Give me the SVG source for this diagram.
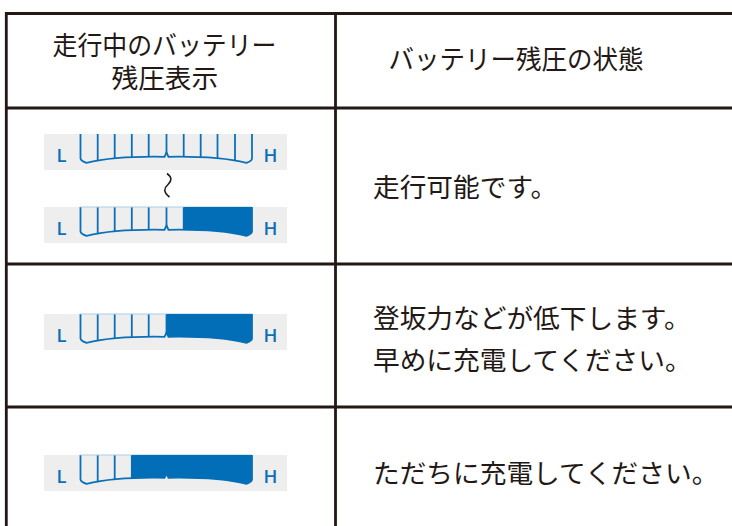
<svg xmlns="http://www.w3.org/2000/svg" xmlns:xlink="http://www.w3.org/1999/xlink" width="732" height="526" viewBox="0 0 732 526">
<style>
.t{font-family:"Noto Sans CJK JP","Noto Sans",sans-serif;font-size:26.7px;fill:#231815}
.lh{font-family:"Open Sans","Liberation Sans",sans-serif;font-size:18.5px;font-weight:600;fill:#0b70b8}
.g{fill:none;stroke:#0b70b8;stroke-width:1.8}
.top{fill:none;stroke:#a9cde6;stroke-width:1.2}
.f{fill:#036eb8}
.b{fill:#eeeeee}
.rule{stroke:#231815;stroke-width:2.8;fill:none}
</style>
<defs>
<path id="out" d="M80.5 0V24.5Q81 27 86.5 28.8Q115 22 164.5 22.8L166.5 18.5L168.5 22.8Q218 22 246.5 28.8Q252 27 252 24.5V0Z"/>
<clipPath id="c"><use xlink:href="#out"/></clipPath>
<g id="gauge">
<rect class="b" x="44" y="0" width="243" height="36"/>
<text class="lh" x="56.5" y="27.8">L</text>
<text class="lh" x="263.5" y="27.8">H</text>
<path class="g" d="M80.5 0V24.5Q81 27 86.5 28.8Q115 22 164.5 22.8L166.5 18.5L168.5 22.8Q218 22 246.5 28.8Q252 27 252 24.5V0"/>
<path class="g" clip-path="url(#c)" d="M97.7 0V30M114.7 0V30M131.8 0V30M148.7 0V30M166.5 0V20M183.7 0V30M200.7 0V30M217.5 0V30M235 0V30"/>
</g>
<clipPath id="x1"><rect x="183.5" y="0" width="70" height="36"/></clipPath>
<clipPath id="x2"><rect x="166.5" y="0" width="87" height="36"/></clipPath>
<clipPath id="x3"><rect x="131.5" y="0" width="122" height="36"/></clipPath>
</defs>

<g id="connectors"/>

<g id="table">
<path class="rule" d="M732 13.5H6.3V526M6.3 108H732M6.3 264H732M6.3 407H732M335.5 13.5V526"/>
</g>

<g id="header-left">
<text class="t" x="52.5" y="55" textLength="224" lengthAdjust="spacingAndGlyphs">走行中のバッテリー</text>
<text class="t" x="111.5" y="87.5">残圧表示</text>
</g>
<g id="header-right">
<text class="t" x="388.5" y="69" textLength="255" lengthAdjust="spacingAndGlyphs">バッテリー残圧の状態</text>
</g>

<g id="row1-gauge-full" transform="translate(0 134)">
<use xlink:href="#gauge"/>
</g>
<path id="row1-tilde" d="M167 173.5C172 177 172 181 168 184.5C164 188 163 192 169.5 197" fill="none" stroke="#231815" stroke-width="1.6"/>
<g id="row1-gauge-low" transform="translate(0 207)">
<use xlink:href="#gauge"/>
<path class="top" d="M80.5 0H252"/>
<use xlink:href="#out" class="f" clip-path="url(#x1)"/>
</g>
<g id="row1-text"><text class="t" x="373" y="197">走行可能です。</text></g>

<g id="row2-gauge" transform="translate(0 314)">
<use xlink:href="#gauge"/>
<path class="top" d="M80.5 0H252"/>
<use xlink:href="#out" class="f" clip-path="url(#x2)"/>
</g>
<g id="row2-text">
<text class="t" x="373" y="327.5">登坂力などが低下します。</text>
<text class="t" x="373" y="369.5">早めに充電してください。</text>
</g>

<g id="row3-gauge" transform="translate(0 455)">
<use xlink:href="#gauge"/>
<path class="top" d="M80.5 0H252"/>
<use xlink:href="#out" class="f" clip-path="url(#x3)"/>
</g>
<g id="row3-text"><text class="t" x="373" y="482.5">ただちに充電してください。</text></g>
</svg>
